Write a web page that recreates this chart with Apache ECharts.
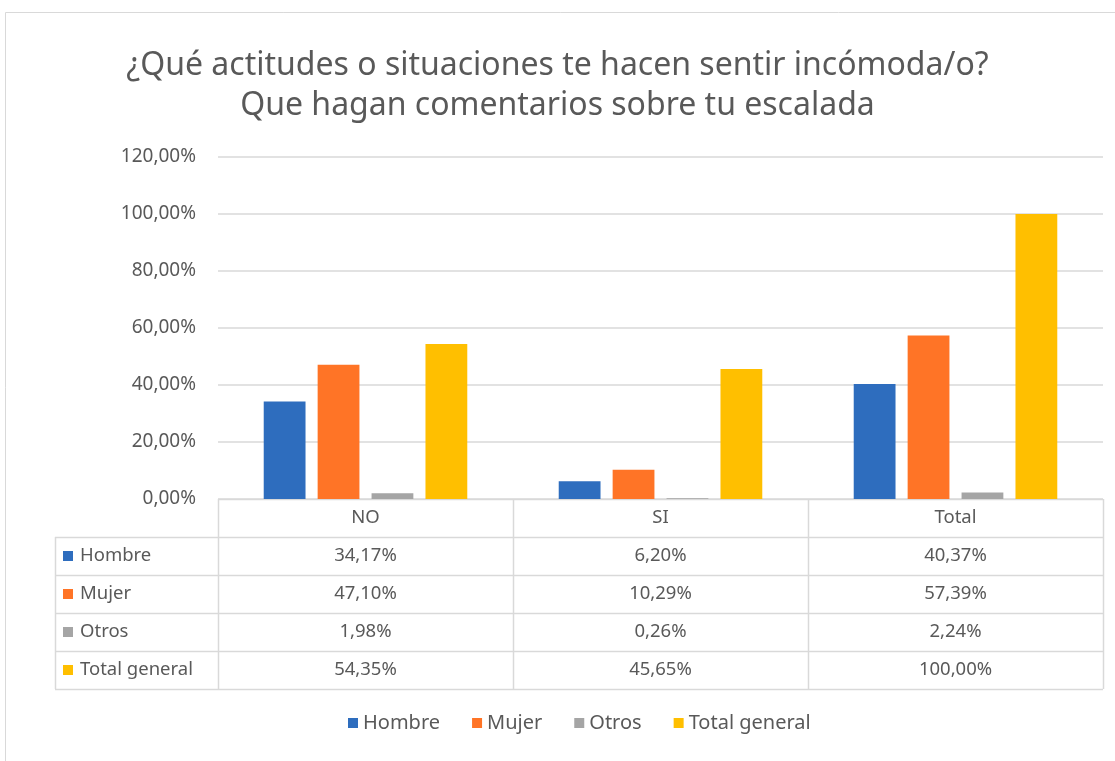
<!DOCTYPE html>
<html>
<head>
<meta charset="utf-8">
<script src="https://cdn.jsdelivr.net/npm/echarts@6/dist/echarts.min.js"></script>
<style>
html,body{margin:0;padding:0;background:#fff;}
#chart{width:1115px;height:761px;}
</style>
</head>
<body>
<div id="chart"></div>
<script>
var categories = ['NO', 'SI', 'Total'];
var seriesNames = ['Hombre', 'Mujer', 'Otros', 'Total general'];
var hombre = [34.17, 6.20, 40.37];
var mujer = [47.10, 10.29, 57.39];
var otros = [1.98, 0.26, 2.24];
var totalGeneral = [54.35, 45.65, 100.00];
var colors = ['#2E6DBE', '#FF7426', '#A5A5A5', '#FFBF00'];

var values = [hombre, mujer, otros, totalGeneral];
var txt = '#595959';
var lineCol = '#D9D9D9';
var font = 'Noto Sans';

function pct(v) {
    return v.toFixed(2).replace('.', ',') + '%';
}

var gridLeft = 218, gridRight = 12, gridTop = 157, gridBottom = 262;
var W = 1115, H = 761;
var tableTop = H - gridBottom;
var rowH = 38;
var colW = (W - gridLeft - gridRight) / categories.length;
var tableLeft = 55;
var cellFont = '18.5px "' + font + '"';

var mychart = echarts.init(document.getElementById('chart'));

var series = [];
for (var i = 0; i < seriesNames.length; i++) {
    series.push({
        name: seriesNames[i],
        type: 'bar',
        data: values[i],
        barGap: '29%',
        barCategoryGap: '31%',
        itemStyle: { color: colors[i] }
    });
}

// tabla de datos bajo el eje
var g = [];
g.push({
    type: 'rect',
    shape: { x: 5.5, y: 12.5, width: 1200, height: 800 },
    style: { fill: 'none', stroke: lineCol, lineWidth: 1 },
    silent: true
});
var right = W - gridRight;
g.push({ type: 'line', shape: { x1: gridLeft, y1: tableTop + 0.5, x2: right, y2: tableTop + 0.5 }, style: { stroke: lineCol, lineWidth: 1.5 } });
for (var r = 1; r <= seriesNames.length + 1; r++) {
    var y = tableTop + r * rowH + 0.5;
    g.push({ type: 'line', shape: { x1: tableLeft, y1: y, x2: right, y2: y }, style: { stroke: lineCol, lineWidth: 1.5 } });
}
g.push({ type: 'line', shape: { x1: tableLeft + 0.5, y1: tableTop + rowH, x2: tableLeft + 0.5, y2: tableTop + rowH * 5 }, style: { stroke: lineCol, lineWidth: 1.5 } });
for (var c = 0; c <= categories.length; c++) {
    var x = Math.round(gridLeft + c * colW) + 0.5;
    g.push({ type: 'line', shape: { x1: x, y1: tableTop, x2: x, y2: tableTop + rowH * 5 }, style: { stroke: lineCol, lineWidth: 1.5 } });
}
for (var c = 0; c < categories.length; c++) {
    g.push({
        type: 'text',
        x: gridLeft + (c + 0.5) * colW, y: tableTop + rowH / 2,
        style: { text: categories[c], fill: txt, font: cellFont, align: 'center', verticalAlign: 'middle' }
    });
}
for (var i = 0; i < seriesNames.length; i++) {
    var cy = tableTop + (i + 1.5) * rowH;
    g.push({ type: 'rect', shape: { x: 63, y: cy - 5, width: 10, height: 10 }, style: { fill: colors[i] } });
    g.push({
        type: 'text', x: 80, y: cy,
        style: { text: seriesNames[i], fill: txt, font: cellFont, align: 'left', verticalAlign: 'middle' }
    });
    for (var c = 0; c < categories.length; c++) {
        g.push({
            type: 'text',
            x: gridLeft + (c + 0.5) * colW, y: cy,
            style: { text: pct(values[i][c]), fill: txt, font: cellFont, align: 'center', verticalAlign: 'middle' }
        });
    }
}

option = {
    backgroundColor: '#fff',
    textStyle: { fontFamily: font },
    title: {
        text: '¿Qué actitudes o situaciones te hacen sentir incómoda/o?\nQue hagan comentarios sobre tu escalada',
        left: 'center',
        top: 41,
        textStyle: { fontFamily: font, fontSize: 32, fontWeight: 'normal', color: txt, lineHeight: 40 }
    },
    legend: {
        data: seriesNames,
        bottom: 23,
        left: 343,
        icon: 'rect',
        itemWidth: 10,
        itemHeight: 10,
        itemGap: 32,
        textStyle: { fontFamily: font, fontSize: 20, color: txt }
    },
    grid: { left: gridLeft, right: gridRight, top: gridTop, bottom: gridBottom, containLabel: false },
    xAxis: {
        type: 'category',
        data: categories,
        axisLine: { show: false },
        axisTick: { show: false },
        axisLabel: { show: false }
    },
    yAxis: {
        type: 'value',
        min: 0,
        max: 120,
        interval: 20,
        axisLabel: {
            formatter: function (v) { return pct(v); },
            fontFamily: font, fontSize: 19, color: txt, margin: 22
        },
        splitLine: { lineStyle: { color: lineCol, width: 1.5 } },
        axisLine: { show: false },
        axisTick: { show: false }
    },
    graphic: g,
    series: series
};
mychart.setOption(option);
</script>
</body>
</html>
